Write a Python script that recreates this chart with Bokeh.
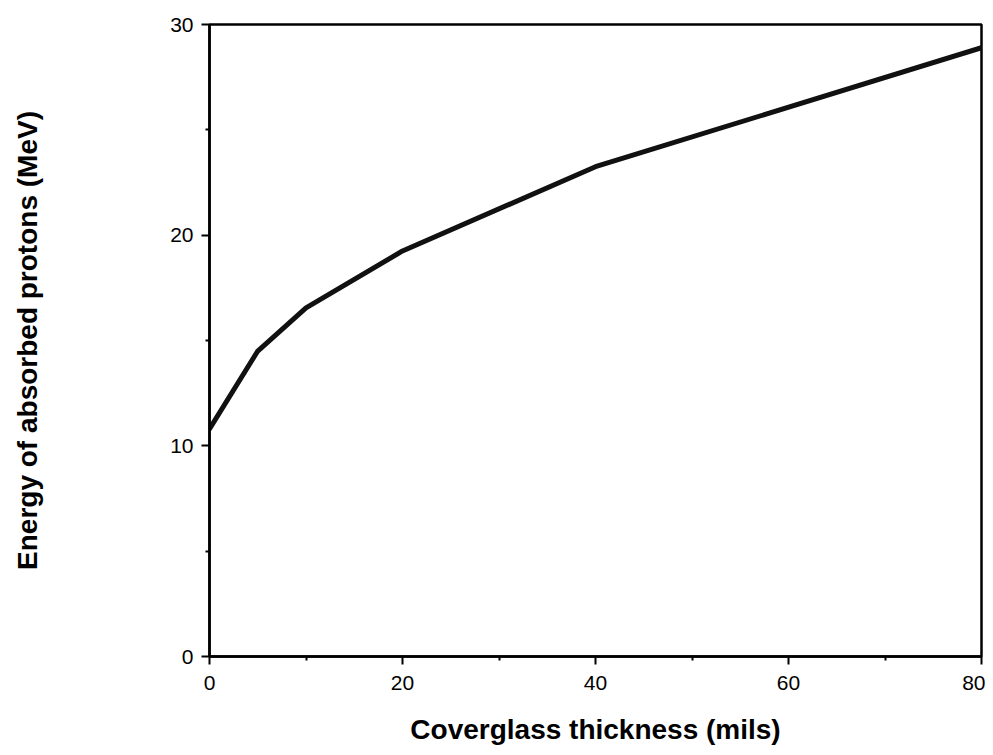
from bokeh.plotting import figure
from bokeh.models import Range1d, FixedTicker
from bokeh.embed import file_html
from bokeh.resources import INLINE

# Data
thickness_mils = [0, 5, 10, 20, 40, 80]
energy_mev = [10.8, 14.5, 16.55, 19.25, 23.25, 28.9]

x_major = [0, 20, 40, 60, 80]
x_minor = [10, 30, 50, 70]
y_major = [0, 10, 20, 30]
y_minor = [5, 15, 25]

FONT = "Liberation Sans"

p = figure(width=985, height=747, output_backend="svg", toolbar_location=None,
           x_range=Range1d(0, 80), y_range=Range1d(0, 30),
           min_border_left=209, min_border_top=24, min_border_right=4,
           min_border_bottom=89)

p.line(thickness_mils, energy_mev, line_width=5, line_color="#111111",
       line_join="round", line_cap="round")

p.grid.visible = False
p.background_fill_color = "white"
p.border_fill_color = "white"
p.outline_line_color = "black"
p.outline_line_width = 2.5
p.outline_line_alpha = 1.0

for ax in (p.xaxis[0], p.yaxis[0]):
    ax.axis_line_width = 2.5
    ax.axis_line_color = "black"
    ax.major_tick_line_width = 2
    ax.minor_tick_line_width = 2
    ax.major_tick_line_color = "black"
    ax.minor_tick_line_color = "black"
    ax.major_tick_out = 8
    ax.major_tick_in = 0
    ax.minor_tick_out = 4
    ax.minor_tick_in = 0
    ax.major_label_text_font = FONT
    ax.major_label_text_font_size = "21px"
    ax.major_label_text_color = "black"
    ax.axis_label_text_font = FONT
    ax.axis_label_text_font_size = "28px"
    ax.axis_label_text_font_style = "bold"
    ax.axis_label_text_color = "black"

p.xaxis.ticker = FixedTicker(ticks=x_major, minor_ticks=x_minor)
p.yaxis.ticker = FixedTicker(ticks=y_major, minor_ticks=y_minor)

p.xaxis.axis_label = "Coverglass thickness (mils)"
p.yaxis.axis_label = "Energy of absorbed protons (MeV)"

p.xaxis.major_label_standoff = 11
p.xaxis.axis_label_standoff = 21
p.yaxis.major_label_standoff = 8
p.yaxis.axis_label_standoff = 124

open("out.html", "w").write(file_html(p, INLINE))
